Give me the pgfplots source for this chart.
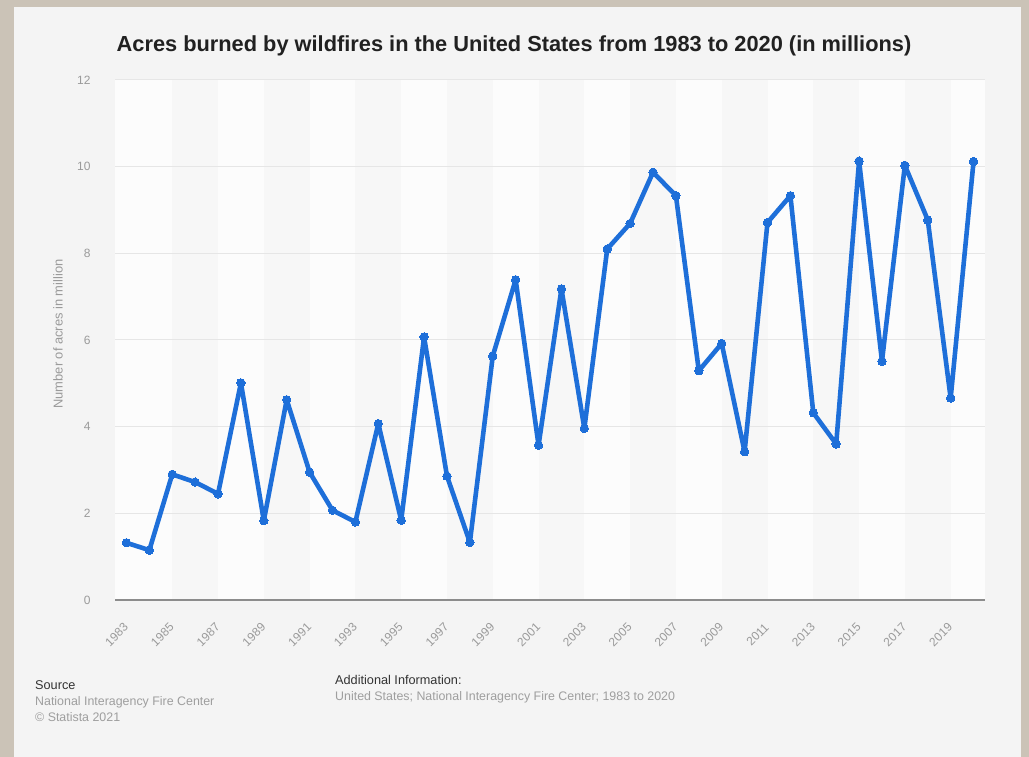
\documentclass[border=0pt]{standalone}
\usepackage{pgfplots}
\pgfplotsset{compat=1.18}
\usepackage{fontspec}
\setmainfont{Liberation Sans}
\definecolor{frame}{HTML}{CBC3B7}
\definecolor{panel}{HTML}{F4F4F4}
\definecolor{plotbg}{HTML}{FCFCFC}
\definecolor{stripe}{HTML}{F7F7F7}
\definecolor{lineblue}{HTML}{1E6FD9}
\definecolor{ticktxt}{HTML}{9A9A9A}
\definecolor{gridc}{HTML}{E6E6E6}
\begin{document}
\begin{tikzpicture}
\fill[frame] (0pt,0pt) rectangle (1029pt,757pt);
\fill[panel] (14pt,0pt) rectangle (1021pt,750pt);
\fill[plotbg] (115pt,157pt) rectangle (985pt,677pt);
\foreach \a/\b in {172.24/218.03, 263.82/309.61, 355.39/401.18, 446.97/492.76, 538.55/584.34, 630.13/675.92, 721.71/767.50, 813.29/859.08, 904.87/950.66}{
  \fill[stripe] (\a pt,157pt) rectangle (\b pt,677pt);
}
\begin{axis}[
  at={(115pt,157pt)}, anchor=south west,
  scale only axis, width=870pt, height=520pt,
  xmin=1982.5, xmax=2020.5, ymin=0, ymax=12,
  axis x line*=bottom, axis y line*=left,
  x axis line style={draw=black!45, line width=1.6pt, -},
  y axis line style={draw=none},
  /pgf/number format/assume math mode=true,
  xtick={1983,1985,...,2019},
  major tick length=0pt,
  xticklabel style={rotate=45, anchor=center, xshift=-31.5pt, yshift=-17.5pt, font=\fontsize{12}{14}\selectfont, text=ticktxt},
  xticklabel={\pgfmathprintnumber[1000 sep={}, assume math mode=true]{\tick}},
  ytick={0,2,...,12},
  yticklabel style={text=ticktxt, font=\fontsize{12}{14}\selectfont, anchor=east, xshift=-21pt},
  ymajorgrids, major grid style={draw=gridc, line width=1pt},
  clip=false,
]
\addplot[lineblue, line width=4.6pt, line join=round, mark=*, mark size=4.2pt, mark options={fill=lineblue, draw=lineblue, line width=0pt}]
coordinates {
(1983,1.32)(1984,1.15)(1985,2.90)(1986,2.72)(1987,2.45)(1988,5.01)(1989,1.83)(1990,4.62)
(1991,2.95)(1992,2.07)(1993,1.80)(1994,4.07)(1995,1.84)(1996,6.07)(1997,2.86)(1998,1.33)
(1999,5.63)(2000,7.39)(2001,3.57)(2002,7.18)(2003,3.96)(2004,8.10)(2005,8.69)(2006,9.87)
(2007,9.33)(2008,5.29)(2009,5.92)(2010,3.42)(2011,8.71)(2012,9.33)(2013,4.32)(2014,3.60)
(2015,10.13)(2016,5.51)(2017,10.03)(2018,8.77)(2019,4.66)(2020,10.12)
};
\end{axis}
\node[rotate=90, text=ticktxt, font=\fontsize{12.9}{14}\selectfont] at (58pt,423pt) {Number of acres in million};
\node[font=\fontsize{21.8}{24}\selectfont\bfseries, text=black!87] at (514pt,711pt) {Acres burned by wildfires in the United States from 1983 to 2020 (in millions)};
% footer
\node[anchor=west, font=\fontsize{12.7}{14}\selectfont, text=black!80, inner sep=0pt] at (35pt,72pt) {Source};
\node[anchor=west, font=\fontsize{12.4}{14}\selectfont, text=black!38, inner sep=0pt] at (35pt,55pt) {National Interagency Fire Center};
\node[anchor=west, font=\fontsize{12.4}{14}\selectfont, text=black!38, inner sep=0pt] at (35pt,40pt) {\textcopyright{} Statista 2021};
\node[anchor=west, font=\fontsize{12.7}{14}\selectfont, text=black!80, inner sep=0pt] at (335pt,77pt) {Additional Information:};
\node[anchor=west, font=\fontsize{12.4}{14}\selectfont, text=black!38, inner sep=0pt] at (335pt,60pt) {United States; National Interagency Fire Center; 1983 to 2020};
\end{tikzpicture}
\end{document}
